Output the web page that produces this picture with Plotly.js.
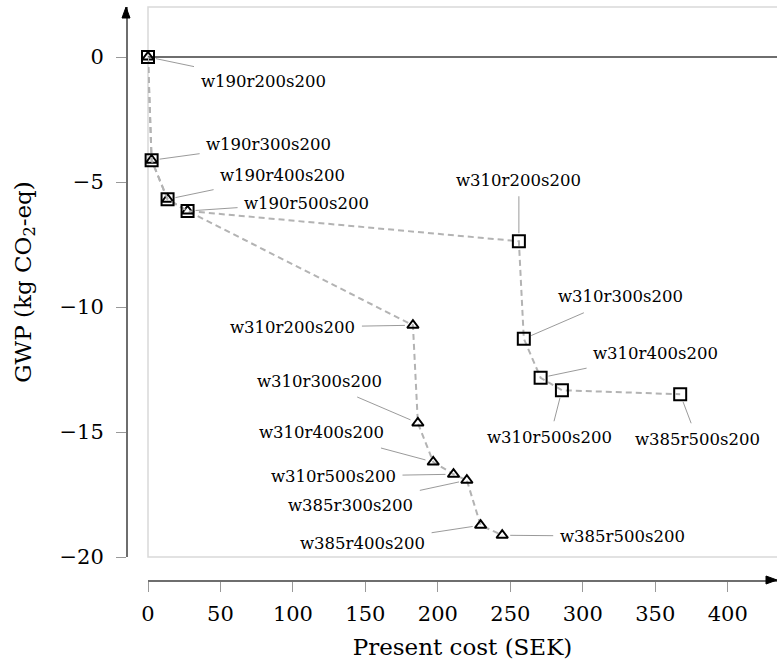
<!DOCTYPE html>
<html>
<head>
<meta charset="utf-8">
<script src="https://cdn.plot.ly/plotly-3.0.1.min.js"></script>
<style>
html,body{margin:0;padding:0;background:#fff;}
#chart{width:777px;height:666px;}
</style>
</head>
<body>
<div id="chart"></div>
<script>
// ---- data ----
const triCost = [0, 2.5, 13.5, 27.3, 182.8, 186.2, 196.8, 210.8, 220.0, 229.5, 244.4];
const triGwp  = [0, -4.13, -5.69, -6.16, -10.73, -14.64, -16.2, -16.69, -16.93, -18.73, -19.13];
const triLabels = ["w190r200s200","w190r300s200","w190r400s200","w190r500s200",
  "w310r200s200","w310r300s200","w310r400s200","w310r500s200",
  "w385r300s200","w385r400s200","w385r500s200"];

const sqCost = [0, 2.5, 13.5, 27.3, 255.9, 259.3, 270.9, 285.6, 367.2];
const sqGwp  = [0, -4.13, -5.69, -6.16, -7.37, -11.27, -12.83, -13.33, -13.49];
const sqLabels = ["w190r200s200","w190r300s200","w190r400s200","w190r500s200",
  "w310r200s200","w310r300s200","w310r400s200","w310r500s200","w385r500s200"];

const xTicks = [0, 50, 100, 150, 200, 250, 300, 350, 400];
const yTicks = [-20, -15, -10, -5, 0];

// ---- label placement (pixel offsets of label text from its point) ----
const triLabelOffsets = [[115,24],[117,-16],[115,-24],[119,-8],[-120,2],[-98,-42],
  [-112,-30],[-120,2],[-116,25],[-118,18],[120,1]];
const sqLabelOffsets = [null,null,null,null,[0,-61],[97,-42],[115,-24],[-12,47],[17,45]];

const FONT = "DejaVu Serif";
const dashLine = {color:"#b3b3b3", width:2, dash:"6px,4px"};

const W = 777, H = 666;
const M = {l:126, r:0, t:7, b:86};
const paperW = W - M.l - M.r, paperH = H - M.t - M.b;

const traces = [
  {x:triCost, y:triGwp, type:"scatter", mode:"lines+markers", cliponaxis:false,
   line:dashLine,
   marker:{symbol:"triangle-up-open", size:10, color:"#000", line:{width:2, color:"#000"}},
   showlegend:false, hoverinfo:"skip"},
  {x:sqCost, y:sqGwp, type:"scatter", mode:"lines+markers", cliponaxis:false,
   line:dashLine,
   marker:{symbol:"square-open", size:12, color:"#000", line:{width:2, color:"#000"}},
   showlegend:false, hoverinfo:"skip"}
];

const annotations = [];
function addLabels(xs, ys, labels, offs){
  for(let i=0;i<xs.length;i++){
    if(!offs[i]) continue;
    annotations.push({x:xs[i], y:ys[i], xref:"x", yref:"y", text:labels[i],
      showarrow:true, arrowhead:0, arrowwidth:0.8, arrowcolor:"#808080",
      ax:offs[i][0], ay:offs[i][1], standoff:8, borderpad:6,
      font:{family:FONT, size:16.5, color:"#000"}});
  }
}
addLabels(triCost, triGwp, triLabels, triLabelOffsets);
addLabels(sqCost, sqGwp, sqLabels, sqLabelOffsets);

// axis arrowheads (paper coordinates, sized in pixels)
const aL = 11, aHW = 4;
const ax_b = 1 - aL/paperW, ax_h = aHW/paperH;
const ay_b = 1 - aL/paperH, ay_h = aHW/paperW;
const shapes = [
  {type:"rect", xref:"x domain", yref:"y domain", x0:0, x1:1.01, y0:0, y1:1,
   line:{color:"#d9d9d9", width:1.5}, layer:"below"},
  {type:"path", xref:"paper", yref:"paper",
   path:`M 1 0 L ${ax_b} ${ax_h} L ${ax_b} ${-ax_h} Z`,
   fillcolor:"#000", line:{color:"#000", width:1}},
  {type:"path", xref:"paper", yref:"paper",
   path:`M 0 1 L ${-ay_h} ${ay_b} L ${ay_h} ${ay_b} Z`,
   fillcolor:"#000", line:{color:"#000", width:1}}
];

const layout = {
  width:W, height:H,
  margin:M,
  paper_bgcolor:"#fff", plot_bgcolor:"rgba(0,0,0,0)",
  font:{family:FONT, color:"#000"},
  showlegend:false,
  xaxis:{
    domain:[22/paperW, 1], anchor:"free", position:0,
    range:[0, 434], tickvals:xTicks, ticktext:xTicks.map(String),
    showgrid:false, zeroline:false,
    showline:true, linecolor:"#6e6e6e", linewidth:1.5,
    ticks:"outside", ticklen:10, tickwidth:1, tickcolor:"#999",
    ticklabelstandoff:4,
    tickfont:{family:FONT, size:21, color:"#000"},
    title:{text:"Present cost (SEK)", font:{family:FONT, size:23, color:"#000"}, standoff:14}
  },
  yaxis:{
    domain:[23/paperH, 1], anchor:"free", position:0,
    range:[-20, 2], tickvals:yTicks, ticktext:yTicks.map(v=>v<0?"\u2212"+Math.abs(v):String(v)),
    showgrid:false,
    zeroline:true, zerolinecolor:"#6e6e6e", zerolinewidth:1.5,
    showline:true, linecolor:"#6e6e6e", linewidth:1.5,
    ticks:"outside", ticklen:10, tickwidth:1, tickcolor:"#999",
    ticklabelstandoff:8,
    tickfont:{family:FONT, size:21, color:"#000"},
    title:{text:"GWP (kg CO<sub>2</sub>-eq)", font:{family:FONT, size:23, color:"#000"}, standoff:20}
  },
  shapes:shapes,
  annotations:annotations
};

Plotly.newPlot("chart", traces, layout, {displayModeBar:false, staticPlot:true});
</script>
</body>
</html>
